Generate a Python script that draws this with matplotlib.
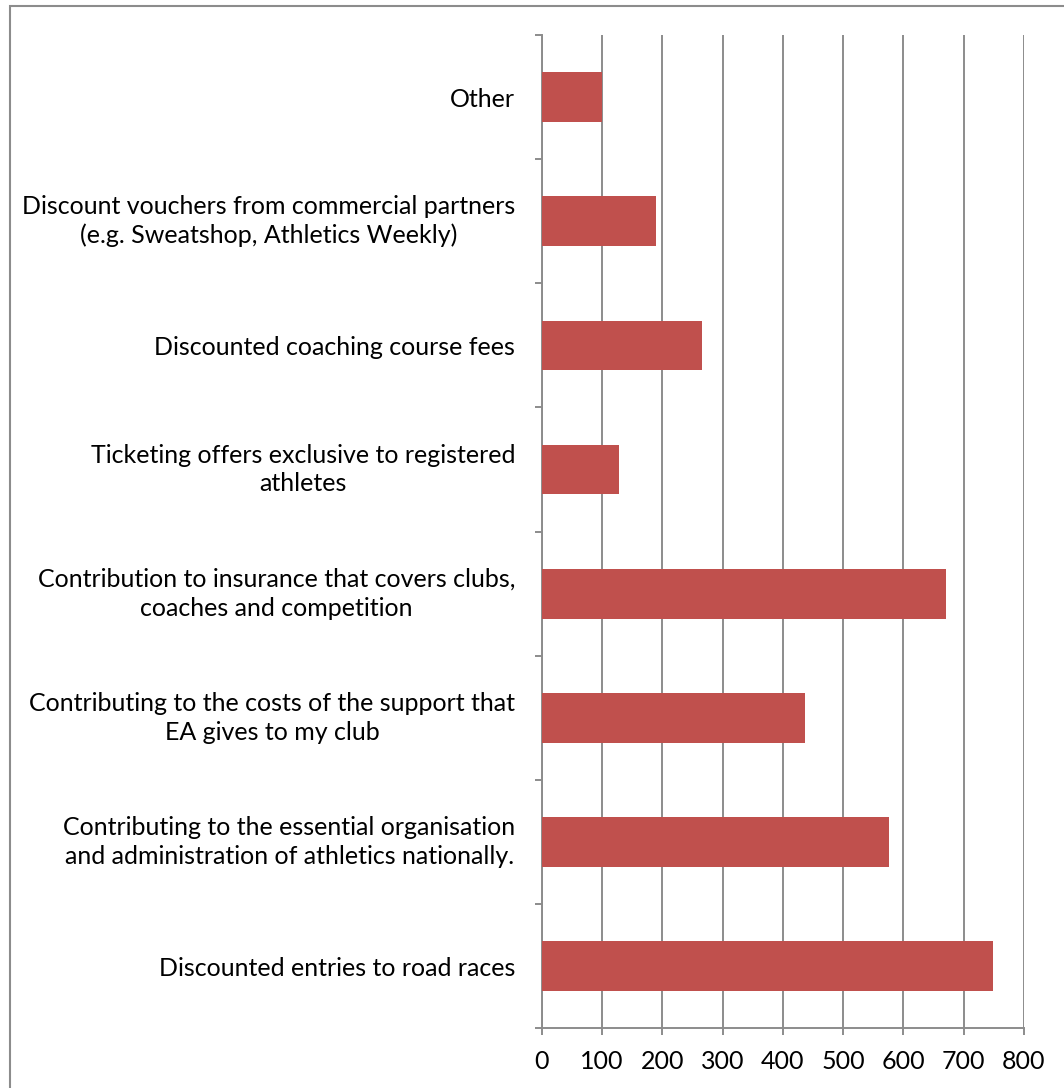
import numpy as np
import matplotlib.pyplot as plt
from matplotlib.patches import Rectangle

plt.rcParams['font.family'] = ['Lato', 'DejaVu Sans']

# Categories listed bottom to top
categories = [
    "Discounted entries to road races",
    "Contributing to the essential organisation\nand administration of athletics nationally.",
    "Contributing to the costs of the support that\nEA gives to my club",
    "Contribution to insurance that covers clubs,\ncoaches and competition",
    "Ticketing offers exclusive to registered\nathletes",
    "Discounted coaching course fees",
    "Discount vouchers from commercial partners\n(e.g. Sweatshop, Athletics Weekly)",
    "Other",
]
responses = [749, 576, 436, 670, 128, 266, 189, 100]
x_ticks = [0, 100, 200, 300, 400, 500, 600, 700, 800]

grey = "#8C8C8C"

fig = plt.figure(figsize=(10.64, 10.88), dpi=100)
ax = fig.add_axes([0.5091, 0.0549, 0.4533, 0.9130])

y = np.arange(len(categories))
ax.barh(y, responses, height=0.40, color="#C0504D", zorder=3)

ax.set_xlim(0, 800)
ax.set_ylim(-0.5, len(categories) - 0.5)
ax.set_xticks(x_ticks)
ax.set_xticklabels([str(v) for v in x_ticks], fontsize=18)
ax.set_yticks(y)
ax.set_yticklabels(categories, fontsize=18, multialignment="center",
                   linespacing=1.3)
ax.set_yticks(np.arange(-0.5, len(categories), 1), minor=True)
# two-line labels sit centred on the bar
for lbl in ax.get_yticklabels():
    if "\n" in lbl.get_text():
        lbl.set_va("center")

ax.grid(axis="x", color=grey, linewidth=1.4, zorder=0)
ax.tick_params(axis="y", which="major", length=0, pad=19)
ax.tick_params(axis="y", which="minor", length=5, width=1.4, color=grey, direction="out")
ax.tick_params(axis="x", length=5, width=1.4, color=grey, direction="out", pad=11)

for side in ["top", "right"]:
    ax.spines[side].set_visible(False)
for side in ["left", "bottom"]:
    ax.spines[side].set_color(grey)
    ax.spines[side].set_linewidth(1.4)

# chart area border
fig.patches.append(Rectangle((9.5 / 1064, -0.05), 1.2, 1.05 - 6 / 1088,
                             transform=fig.transFigure, fill=False,
                             edgecolor=grey, linewidth=1.5))

fig.savefig("out.png", dpi=100)
